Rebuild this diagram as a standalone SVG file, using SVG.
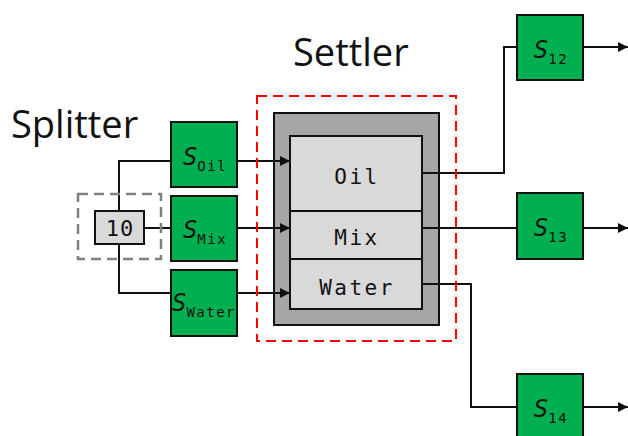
<svg xmlns="http://www.w3.org/2000/svg" width="628" height="436" viewBox="0 0 628 436">
<style>
.title{font-family:"Open Sans","Liberation Sans",sans-serif;font-size:38px;fill:#111}
.mono{font-family:"DejaVu Sans Mono","Liberation Mono",monospace;fill:#111}
.stream{fill:#00B050;stroke:#111;stroke-width:2}
.conn{fill:none;stroke:#111;stroke-width:2}
.big{font-size:24px;font-style:italic}
.sub{font-size:14px;letter-spacing:1.5px}
.lbl{font-size:21px;letter-spacing:2.5px}
</style>
<defs>
<marker id="arr" viewBox="0 0 10 10" refX="10" refY="5" markerWidth="10" markerHeight="10" markerUnits="userSpaceOnUse" orient="auto">
<path d="M0,0 L10,5 L0,10 Z" fill="#111"/>
</marker>
</defs>
<rect width="628" height="436" fill="#fff"/>
<text class="title" x="11" y="138">Splitter</text>
<text class="title" x="293" y="66">Settler</text>

<g id="settler">
<rect x="274" y="113" width="165" height="212" fill="#A6A6A6" stroke="#111" stroke-width="2"/>
<rect x="290" y="136" width="132" height="75" fill="#D9D9D9" stroke="#111" stroke-width="2"/>
<rect x="290" y="211" width="132" height="48" fill="#D9D9D9" stroke="#111" stroke-width="2"/>
<rect x="290" y="259" width="132" height="50" fill="#D9D9D9" stroke="#111" stroke-width="2"/>
<text class="mono lbl" x="357" y="184" text-anchor="middle">Oil</text>
<text class="mono lbl" x="357" y="245" text-anchor="middle">Mix</text>
<text class="mono lbl" x="357" y="295" text-anchor="middle">Water</text>
</g>

<g id="connectors">
<path class="conn" d="M119,211 V161 H171"/>
<path class="conn" d="M144,228 H171"/>
<path class="conn" d="M119,244 V293 H171"/>
<path class="conn" d="M237,161 H290" marker-end="url(#arr)"/>
<path class="conn" d="M237,228 H290" marker-end="url(#arr)"/>
<path class="conn" d="M237,293 H290" marker-end="url(#arr)"/>
<path class="conn" d="M422,173 H504 V47 H517"/>
<path class="conn" d="M422,228 H517"/>
<path class="conn" d="M422,284 H471 V407 H517"/>
<path class="conn" d="M583,47 H628" marker-end="url(#arr)"/>
<path class="conn" d="M583,228 H628" marker-end="url(#arr)"/>
<path class="conn" d="M583,407 H628" marker-end="url(#arr)"/>
</g>

<rect x="257" y="96" width="199" height="245" fill="none" stroke="#FF0000" stroke-width="2" stroke-dasharray="10,6"/>
<rect x="78" y="194" width="83" height="65" fill="none" stroke="#808080" stroke-width="2.5" stroke-dasharray="10,6"/>

<g id="splitter">
<rect x="95" y="211" width="49" height="33" fill="#D9D9D9" stroke="#111" stroke-width="2"/>
<text class="mono" x="120" y="236" text-anchor="middle" font-size="22" letter-spacing="1">10</text>
</g>

<g id="s_oil">
<rect class="stream" x="171" y="122" width="66" height="65"/>
<text class="mono" x="205" y="165" text-anchor="middle"><tspan class="big">S</tspan><tspan class="sub" dy="6">Oil</tspan></text>
</g>
<g id="s_mix">
<rect class="stream" x="171" y="196" width="66" height="65"/>
<text class="mono" x="205" y="238" text-anchor="middle"><tspan class="big">S</tspan><tspan class="sub" dy="6">Mix</tspan></text>
</g>
<g id="s_water">
<rect class="stream" x="171" y="270" width="66" height="66"/>
<text class="mono" x="204" y="311" text-anchor="middle"><tspan class="big">S</tspan><tspan class="sub" dy="6">Water</tspan></text>
</g>
<g id="s12">
<rect class="stream" x="517" y="15" width="66" height="65"/>
<text class="mono" x="551" y="58" text-anchor="middle"><tspan class="big">S</tspan><tspan class="sub" dy="6">12</tspan></text>
</g>
<g id="s13">
<rect class="stream" x="517" y="193" width="66" height="66"/>
<text class="mono" x="551" y="236" text-anchor="middle"><tspan class="big">S</tspan><tspan class="sub" dy="6">13</tspan></text>
</g>
<g id="s14">
<rect class="stream" x="517" y="374" width="66" height="66"/>
<text class="mono" x="551" y="417" text-anchor="middle"><tspan class="big">S</tspan><tspan class="sub" dy="6">14</tspan></text>
</g>
</svg>
